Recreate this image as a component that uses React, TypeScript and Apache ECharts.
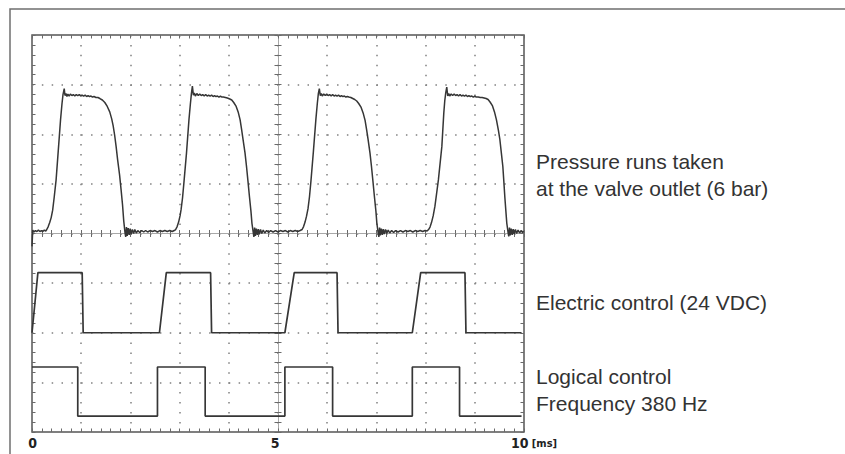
import React, { useEffect, useRef } from "react";
import * as echarts from "echarts";

// ---- data (x in ms, y in screen divisions 0..8) ----
const xLabelValues = [0, 5, 10];
const xUnit = "[ms]";

const pressureStart: [number, number][] = [
  [0, 3.74], [0.015, 4.07], [0.04, 4.03], [0.07, 4.06], [0.1, 4.04], [0.13, 4.07],
  [0.16, 4.04], [0.19, 4.06], [0.22, 4.04], [0.25, 4.07], [0.28, 4.05],
];

const pressurePulse1: [number, number][] = [
  [0.3, 4.08], [0.33, 4.14], [0.36, 4.22], [0.39, 4.32], [0.42, 4.47], [0.45, 4.72],
  [0.49, 5.08], [0.54, 5.75], [0.58, 6.29], [0.61, 6.62], [0.63, 6.8], [0.655, 6.92],
  [0.67, 6.78], [0.69, 6.82], [0.71, 6.76], [0.73, 6.81], [0.755, 6.77], [0.78, 6.81],
  [0.81, 6.78], [0.84, 6.8], [0.87, 6.77], [0.9, 6.8], [0.93, 6.78], [0.96, 6.8],
  [0.99, 6.77], [1.02, 6.79], [1.05, 6.77], [1.08, 6.79], [1.11, 6.76], [1.14, 6.78],
  [1.17, 6.76], [1.2, 6.77], [1.23, 6.75], [1.26, 6.76], [1.3, 6.74], [1.34, 6.74],
  [1.38, 6.72], [1.43, 6.69], [1.48, 6.64], [1.53, 6.56], [1.58, 6.45], [1.62, 6.31],
  [1.65, 6.17], [1.68, 5.98], [1.71, 5.75], [1.74, 5.49], [1.78, 5.18], [1.81, 4.89],
  [1.84, 4.58], [1.865, 4.25], [1.89, 4.02], [1.905, 3.93], [1.92, 4.13], [1.935, 3.95],
  [1.955, 4.11], [1.975, 3.97], [1.995, 4.1], [2.015, 3.99], [2.04, 4.08], [2.065, 4.0],
  [2.09, 4.08], [2.12, 4.01], [2.15, 4.06], [2.19, 4.02], [2.23, 4.06], [2.27, 4.03],
  [2.31, 4.06], [2.35, 4.03], [2.4, 4.06], [2.45, 4.04], [2.5, 4.06], [2.55, 4.03],
  [2.6, 4.06], [2.65, 4.04], [2.7, 4.06], [2.75, 4.04], [2.8, 4.06], [2.85, 4.04], [2.89, 4.06],
];

const pressurePulse2: [number, number][] = [
  [2.92, 4.08], [2.95, 4.14], [2.98, 4.23], [3.01, 4.36], [3.03, 4.48], [3.06, 4.72],
  [3.09, 5.05], [3.14, 5.62], [3.19, 6.29], [3.22, 6.62], [3.24, 6.82], [3.26, 6.97],
  [3.28, 6.79], [3.3, 6.83], [3.32, 6.77], [3.35, 6.82], [3.38, 6.78], [3.41, 6.81],
  [3.44, 6.78], [3.47, 6.8], [3.5, 6.77], [3.53, 6.8], [3.56, 6.77], [3.59, 6.79],
  [3.62, 6.77], [3.65, 6.79], [3.68, 6.76], [3.71, 6.78], [3.74, 6.76], [3.77, 6.77],
  [3.8, 6.75], [3.83, 6.77], [3.86, 6.75], [3.89, 6.75], [3.93, 6.74], [3.97, 6.73],
  [4.02, 6.71], [4.06, 6.69], [4.1, 6.64], [4.15, 6.56], [4.19, 6.45], [4.23, 6.29],
  [4.26, 6.1], [4.29, 5.89], [4.33, 5.62], [4.36, 5.35], [4.39, 5.05], [4.42, 4.74],
  [4.45, 4.45], [4.47, 4.21], [4.495, 4.03], [4.51, 3.93], [4.525, 4.12], [4.54, 3.95],
  [4.56, 4.1], [4.58, 3.97], [4.6, 4.09], [4.62, 3.99], [4.645, 4.08], [4.67, 4.0],
  [4.7, 4.07], [4.73, 4.01], [4.77, 4.06], [4.81, 4.02], [4.85, 4.06], [4.9, 4.03],
  [4.95, 4.06], [5.0, 4.03], [5.05, 4.06], [5.1, 4.04], [5.15, 4.06], [5.2, 4.03],
  [5.25, 4.06], [5.3, 4.04], [5.35, 4.06], [5.4, 4.04], [5.45, 4.06],
];

const pressurePulse3: [number, number][] = [
  [5.49, 4.08], [5.52, 4.14], [5.55, 4.23], [5.58, 4.35], [5.61, 4.5], [5.64, 4.74],
  [5.67, 5.06], [5.72, 5.66], [5.77, 6.3], [5.8, 6.63], [5.82, 6.82], [5.84, 6.92],
  [5.86, 6.78], [5.88, 6.82], [5.9, 6.77], [5.93, 6.81], [5.96, 6.78], [5.99, 6.81],
  [6.02, 6.78], [6.05, 6.8], [6.08, 6.77], [6.11, 6.8], [6.14, 6.77], [6.17, 6.79],
  [6.2, 6.77], [6.23, 6.79], [6.26, 6.76], [6.29, 6.78], [6.32, 6.76], [6.35, 6.77],
  [6.38, 6.75], [6.41, 6.76], [6.44, 6.75], [6.48, 6.74], [6.52, 6.72], [6.56, 6.7],
  [6.6, 6.67], [6.64, 6.62], [6.69, 6.54], [6.73, 6.43], [6.77, 6.28], [6.8, 6.1],
  [6.83, 5.9], [6.87, 5.62], [6.9, 5.35], [6.93, 5.05], [6.96, 4.74], [6.99, 4.45],
  [7.01, 4.2], [7.035, 4.02], [7.05, 3.93], [7.065, 4.12], [7.08, 3.96], [7.1, 4.1],
  [7.12, 3.97], [7.14, 4.09], [7.16, 3.99], [7.185, 4.08], [7.21, 4.0], [7.24, 4.07],
  [7.27, 4.01], [7.31, 4.06], [7.35, 4.02], [7.39, 4.06], [7.44, 4.03], [7.49, 4.06],
  [7.54, 4.03], [7.59, 4.06], [7.64, 4.04], [7.69, 4.06], [7.74, 4.03], [7.79, 4.06],
  [7.84, 4.04], [7.89, 4.06], [7.94, 4.04], [7.99, 4.06], [8.03, 4.05],
];

const pressurePulse4: [number, number][] = [
  [8.06, 4.08], [8.09, 4.13], [8.12, 4.22], [8.155, 4.36], [8.19, 4.55], [8.22, 4.78],
  [8.26, 5.08], [8.33, 5.75], [8.37, 6.43], [8.39, 6.68], [8.41, 6.84], [8.43, 6.95],
  [8.45, 6.77], [8.47, 6.82], [8.49, 6.77], [8.52, 6.81], [8.55, 6.78], [8.58, 6.81],
  [8.61, 6.78], [8.64, 6.8], [8.67, 6.77], [8.7, 6.8], [8.73, 6.77], [8.76, 6.79],
  [8.79, 6.77], [8.82, 6.79], [8.85, 6.76], [8.88, 6.78], [8.91, 6.76], [8.94, 6.77],
  [8.97, 6.75], [9.0, 6.77], [9.03, 6.75], [9.07, 6.75], [9.11, 6.74], [9.15, 6.74],
  [9.19, 6.73], [9.23, 6.72], [9.27, 6.7], [9.31, 6.65], [9.36, 6.57], [9.4, 6.45],
  [9.44, 6.29], [9.48, 6.08], [9.51, 5.89], [9.54, 5.62], [9.57, 5.35], [9.59, 5.05],
  [9.61, 4.74], [9.63, 4.47], [9.65, 4.21], [9.675, 4.03], [9.69, 3.94], [9.705, 4.12],
  [9.72, 3.96], [9.74, 4.1], [9.76, 3.97], [9.78, 4.09], [9.8, 3.99], [9.825, 4.08],
  [9.85, 4.0], [9.88, 4.07], [9.91, 4.01], [9.94, 4.06], [9.97, 4.02], [9.99, 4.05],
];

const electricControl: [number, number][] = [
  [0, 2.0], [0.12, 3.21], [1.02, 3.21], [1.04, 2.0],
  [2.59, 2.0], [2.73, 3.21], [3.63, 3.21], [3.65, 2.0],
  [5.14, 2.0], [5.33, 3.21], [6.2, 3.21], [6.22, 2.0],
  [7.73, 2.0], [7.9, 3.21], [8.8, 3.21], [8.82, 2.0],
  [9.95, 2.0],
];

const logicalControl: [number, number][] = [
  [0, 1.31], [0.93, 1.31], [0.93, 0.32], [2.55, 0.32], [2.55, 1.31],
  [3.52, 1.31], [3.52, 0.32], [5.14, 0.32], [5.14, 1.31], [6.11, 1.31],
  [6.11, 0.32], [7.73, 0.32], [7.73, 1.31], [8.69, 1.31], [8.69, 0.32], [9.95, 0.32],
];

const traceLabels = [
  "Pressure runs taken\nat the valve outlet (6 bar)",
  "Electric control (24 VDC)",
  "Logical control\nFrequency 380 Hz",
];

// ---- component ----
const GRID = { left: 32, top: 35, width: 492, height: 397 };
const TRACE = "#363636";
const TICK = "#6a6a6a";
const DOT = "#808080";

function xAxisBase(extra: any) {
  return {
    type: "value",
    min: 0,
    max: 10,
    interval: 1,
    axisLine: { show: false, onZero: false },
    axisLabel: { show: false },
    splitLine: { show: false },
    axisTick: { show: true, inside: true, length: 3.5, lineStyle: { color: TICK, width: 1 } },
    minorTick: { show: true, splitNumber: 5, length: 3.5, lineStyle: { color: TICK, width: 1 } },
    ...extra,
  };
}
function yAxisBase(extra: any) {
  return {
    type: "value",
    min: 0,
    max: 8,
    interval: 1,
    axisLine: { show: false, onZero: false },
    axisLabel: { show: false },
    splitLine: { show: false },
    axisTick: { show: true, inside: true, length: 3.5, lineStyle: { color: TICK, width: 1 } },
    minorTick: { show: true, splitNumber: 5, length: 3.5, lineStyle: { color: TICK, width: 1 } },
    ...extra,
  };
}

const labelFont = '"Liberation Sans Narrow", "DejaVu Sans Condensed", "Roboto Condensed", sans-serif';
const textFont = '"Liberation Sans", Arial, Helvetica, sans-serif';

export default function App() {
  const ref = useRef<HTMLDivElement>(null);
  useEffect(() => {
    if (!ref.current) return;
    const chart = echarts.init(ref.current, null, { renderer: "svg" });
    const pressure = [
      ...pressureStart,
      ...pressurePulse1,
      ...pressurePulse2,
      ...pressurePulse3,
      ...pressurePulse4,
    ];
    const centerYOffset = -GRID.height / 2;
    const centerXOffset = -GRID.width / 2;
    const rich = {
      a: { fontFamily: labelFont, fontWeight: "bold", fontSize: 14, color: "#222", padding: [0, 0, 0, 1] },
      b: { fontFamily: labelFont, fontWeight: "bold", fontSize: 14, color: "#222", padding: [0, 6, 0, 0] },
      c: { fontFamily: labelFont, fontWeight: "bold", fontSize: 14, color: "#222", padding: [0, 0, 0, 20] },
      u: { fontFamily: labelFont, fontWeight: "bold", fontSize: 11, color: "#222" },
    };
    chart.setOption({
      animation: false,
      backgroundColor: "#ffffff",
      grid: {
        ...GRID,
        show: true,
        borderColor: "#555",
        borderWidth: 1.5,
        backgroundColor: "transparent",
        containLabel: false,
        outerBoundsMode: "none",
      },
      xAxis: [
        xAxisBase({
          position: "bottom",
          axisLabel: {
            show: true,
            margin: 4,
            interval: 0,
            rich,
            formatter: (v: number) => {
              if (!xLabelValues.includes(v)) return "";
              if (v === 0) return `{a|${v}}`;
              if (v === 10) return `{c|${v}} {u|${xUnit}}`;
              return `{b|${v}}`;
            },
          },
          splitLine: { show: true, lineStyle: { color: DOT, width: 1.5, type: [1.5, 8.42] } },
        }),
        xAxisBase({ position: "top" }),
        xAxisBase({
          position: "bottom",
          offset: centerYOffset,
          axisLine: { show: true, onZero: false, lineStyle: { color: "#a8a8a8", width: 1 } },
        }),
        xAxisBase({
          position: "bottom",
          offset: centerYOffset,
          axisTick: { show: true, inside: false, length: 3.5, lineStyle: { color: TICK, width: 1 } },
        }),
      ],
      yAxis: [
        yAxisBase({
          position: "left",
          splitLine: { show: true, lineStyle: { color: DOT, width: 1.5, type: [1.5, 8.34] } },
        }),
        yAxisBase({ position: "right" }),
        yAxisBase({
          position: "left",
          offset: centerXOffset,
          axisLine: { show: true, onZero: false, lineStyle: { color: "#a8a8a8", width: 1 } },
        }),
        yAxisBase({
          position: "left",
          offset: centerXOffset,
          axisTick: { show: true, inside: false, length: 3.5, lineStyle: { color: TICK, width: 1 } },
        }),
      ],
      series: [
        {
          name: "Pressure",
          type: "line",
          data: pressure,
          symbol: "none",
          lineStyle: { color: TRACE, width: 1.5 },
          z: 5,
        },
        {
          name: "Electric control",
          type: "line",
          data: electricControl,
          symbol: "none",
          lineStyle: { color: TRACE, width: 1.7 },
          z: 5,
        },
        {
          name: "Logical control",
          type: "line",
          data: logicalControl,
          symbol: "none",
          lineStyle: { color: TRACE, width: 1.7 },
          z: 5,
        },
      ],
      graphic: [
        {
          type: "rect",
          shape: { x: 10, y: 9, width: 900, height: 500 },
          style: { fill: "none", stroke: "#6f6f6f", lineWidth: 1.5 },
          silent: true,
          z: -1,
        },
        {
          type: "text",
          x: 536,
          y: 148.5,
          style: { text: traceLabels[0], font: `21px ${textFont}`, fill: "#333", lineHeight: 26.5, verticalAlign: "top" },
        },
        {
          type: "text",
          x: 536,
          y: 289.5,
          style: { text: traceLabels[1], font: `21px ${textFont}`, fill: "#333", lineHeight: 26.5, verticalAlign: "top" },
        },
        {
          type: "text",
          x: 536,
          y: 363.5,
          style: { text: traceLabels[2], font: `21px ${textFont}`, fill: "#333", lineHeight: 26.5, verticalAlign: "top" },
        },
      ],
    });
    return () => chart.dispose();
  }, []);
  return (
    <div
      ref={ref}
      style={{ position: "fixed", left: 0, top: 0, width: 845, height: 454, background: "#fff" }}
    />
  );
}
